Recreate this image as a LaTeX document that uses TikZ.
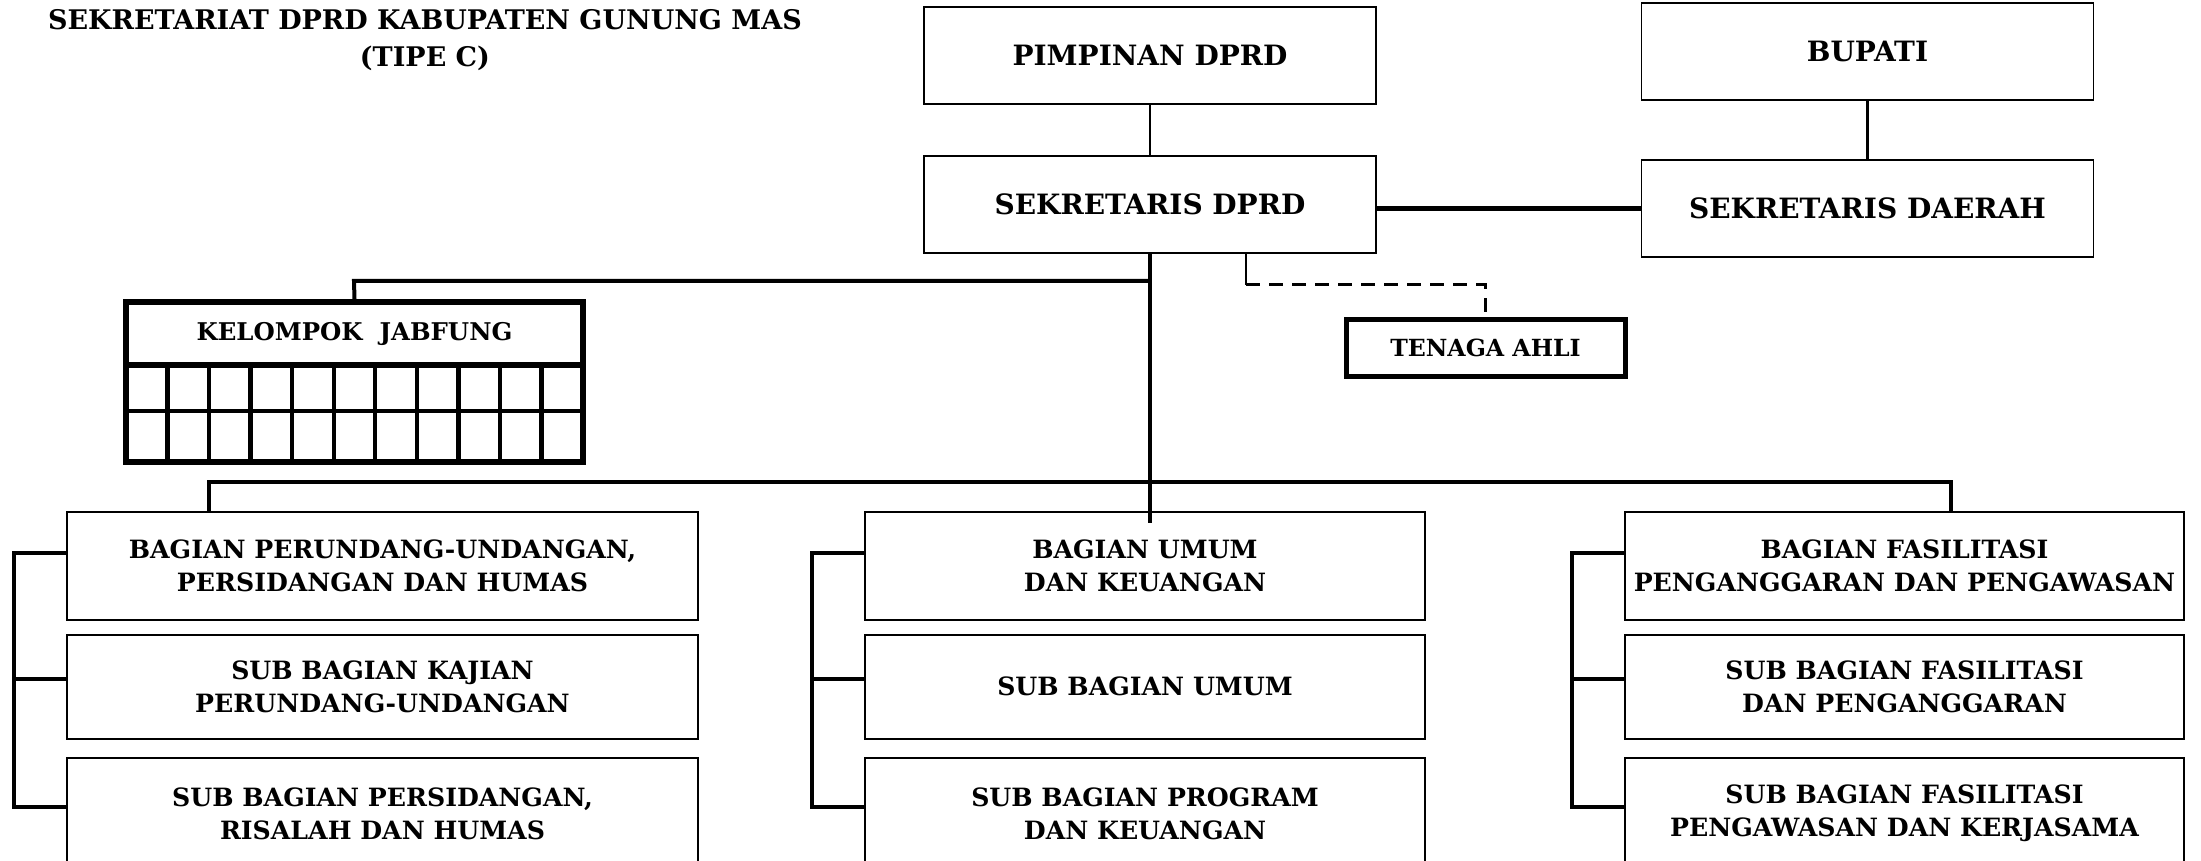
\documentclass[tikz,border=0pt]{standalone}
\usepackage{fontspec}
\setmainfont{DejaVu Serif}
\usetikzlibrary{positioning}

\begin{document}
\begin{tikzpicture}[x=0.5pt,y=-0.5pt,
  box/.style={draw,line width=0.9pt,align=center,inner sep=0pt,font=\bfseries\fontsize{14}{17}\selectfont,minimum width=226pt,minimum height=48.5pt},
  unit/.style={draw,line width=0.9pt,align=center,inner sep=0pt,font=\bfseries\fontsize{12.6}{16.5}\selectfont,minimum height=52pt},
  link/.style={line width=2pt},
  thinlink/.style={line width=1.3pt},
  bracket/.style={line width=2pt,line cap=rect}]
\useasboundingbox (0,0) rectangle (2201,861);
\clip (0,0) rectangle (2201,861);

\node[align=center,font=\bfseries\fontsize{13.5}{18.5}\selectfont] (judul) at (425,40) {SEKRETARIAT DPRD KABUPATEN GUNUNG MAS\\(TIPE C)};
\node[box] (pimpinan) at (1150,55.5) {PIMPINAN DPRD};
\node[box,below=25pt of pimpinan] (sekdprd) {SEKRETARIS DPRD};
\node[box] (sekda) at (1867.5,208.5) {SEKRETARIS DAERAH};
\node[box,above=29pt of sekda] (bupati) {BUPATI};

\node[draw,line width=3pt,inner sep=0pt,minimum width=228.5pt,minimum height=31.5pt,font=\bfseries\fontsize{12.2}{14}\selectfont] (jabfung) at (354.5,333.5) {KELOMPOK~~JABFUNG};
\draw[line width=3pt] (126,365) rectangle (583,462);
\draw[line width=2.2pt] (126,411) -- (583,411);
\foreach \i in {1,...,10}
  \draw[line width=2.2pt] (126+41.545*\i,365) -- ++(0,97);

\node[draw,line width=2.5pt,inner sep=0pt,minimum width=139.5pt,minimum height=28pt,font=\bfseries\fontsize{11.8}{14}\selectfont] (tenaga) at (1485.5,348) {TENAGA AHLI};

\node[unit,minimum width=315.5pt,minimum height=54pt] (pu1) at (382.5,566) {BAGIAN PERUNDANG-UNDANGAN,\\PERSIDANGAN DAN HUMAS};
\node[unit,minimum width=315.5pt,below=6.5pt of pu1] (pu2) {SUB BAGIAN KAJIAN\\PERUNDANG-UNDANGAN};
\node[unit,minimum width=315.5pt,minimum height=56pt,below=8.5pt of pu2] (pu3) {SUB BAGIAN PERSIDANGAN,\\RISALAH DAN HUMAS};

\node[unit,minimum width=280pt,minimum height=54pt] (uk1) at (1145,566) {BAGIAN UMUM\\DAN KEUANGAN};
\node[unit,minimum width=280pt,below=6.5pt of uk1] (uk2) {SUB BAGIAN UMUM};
\node[unit,minimum width=280pt,minimum height=56pt,below=8.5pt of uk2] (uk3) {SUB BAGIAN PROGRAM\\DAN KEUANGAN};

\node[unit,minimum width=279.5pt,minimum height=54pt] (fp1) at (1904.5,566) {BAGIAN FASILITASI\\PENGANGGARAN DAN PENGAWASAN};
\node[unit,minimum width=279.5pt,below=6.5pt of fp1] (fp2) {SUB BAGIAN FASILITASI\\DAN PENGANGGARAN};
\node[unit,minimum width=279.5pt,minimum height=56pt,below=8.5pt of fp2] (fp3) {SUB BAGIAN FASILITASI\\PENGAWASAN DAN KERJASAMA};

\coordinate (mid) at (1150,523);
\coordinate (jb) at (354,281);
\coordinate (ta) at (1246,285);
\coordinate (bl) at (209,482);
\coordinate (br) at (1951,482);

\draw[thinlink] (pimpinan) -- (sekdprd);
\draw[thinlink] (bupati) -- (sekda);
\draw[line width=2.4pt] (sekdprd.east |- sekda) -- (sekda.west);
\draw[link] (sekdprd.south) -- (mid);
\draw[link] (sekdprd.south |- jb) -- (jb) -- (jabfung.north);
\draw[link] (pu1.north -| bl) -- (bl) -- (br) -- (fp1.north -| br);
\draw[thinlink] (sekdprd.south -| ta) -- (ta);
\draw[thinlink,line width=1.5pt,dash pattern=on 7pt off 4.5pt] (ta) -| (tenaga.north);
\foreach \c in {pu,uk,fp} {
  \draw[bracket] ([yshift=-21pt]\c1.north west) -- ++(-26pt,0) |- ([yshift=-25pt]\c3.north west);
  \draw[bracket] ([yshift=4pt]\c2.west) -- ++(-26pt,0);
}
\end{tikzpicture}
\end{document}
